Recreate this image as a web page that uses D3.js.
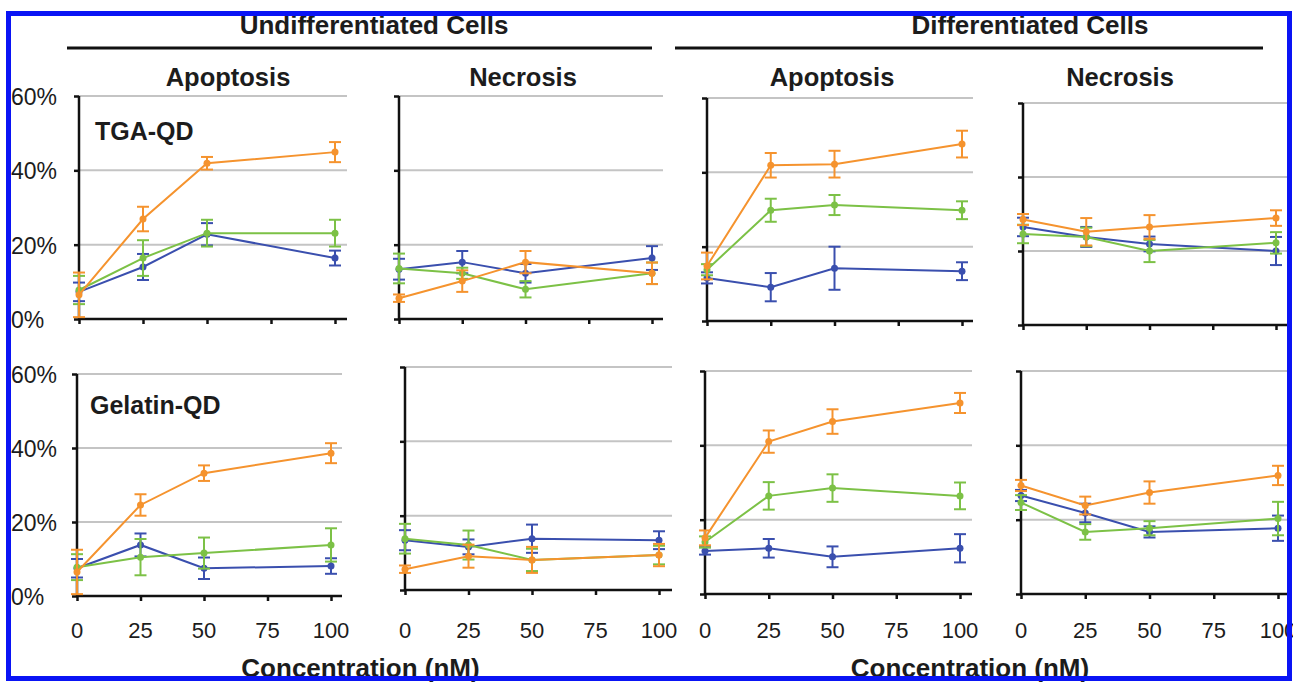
<!DOCTYPE html>
<html>
<head>
<meta charset="utf-8">
<script src="https://cdn.jsdelivr.net/npm/d3@7"></script>
<style>
  body { margin: 0; background: #fff; }
  svg { display: block; font-family: 'Liberation Sans', Arial, sans-serif; }
</style>
</head>
<body>
<script>
/* global d3 */
(function () {
  'use strict'

  // concentrations (nM) and axis ticks
  var conc = [0, 25, 50, 100]
  var xTicks = [0, 25, 50, 75, 100]
  var yTicks = [0, 20, 40, 60]

  // % cells, series order: blue, green, orange
  var tgaUndApo = [[7.3, 14.0, 22.8, 16.4], [7.8, 16.4, 23.1, 23.1], [6.5, 26.9, 41.9, 44.9]]
  var tgaUndApoErr = [[2.5, 3.5, 3.0, 2.0], [3.8, 4.8, 3.6, 3.6], [6.0, 3.3, 1.7, 2.7]]
  var tgaUndNec = [[13.4, 15.3, 12.3, 16.4], [13.6, 12.3, 8.0, 12.3], [5.6, 10.2, 15.3, 12.3]]
  var tgaUndNecErr = [[2.8, 3.0, 2.5, 3.2], [4.0, 1.5, 2.2, 2.9], [1.0, 2.9, 3.0, 2.9]]
  var tgaDifApo = [[11.6, 9.1, 14.2, 13.4], [13.8, 29.8, 31.2, 29.8], [14.8, 41.9, 42.2, 47.6]]
  var tgaDifApoErr = [[1.5, 3.8, 5.8, 2.4], [1.5, 3.1, 2.7, 2.4], [3.6, 3.3, 3.6, 3.6]]
  var tgaDifNec = [[26.5, 23.8, 21.9, 20.0], [24.6, 23.8, 20.0, 22.2], [28.5, 25.2, 26.5, 28.9]]
  var tgaDifNecErr = [[2.5, 2.7, 2.0, 3.8], [2.5, 2.5, 3.0, 2.9], [1.5, 3.7, 3.2, 2.1]]

  var gelUndApo = [[7.5, 13.8, 7.5, 8.1], [7.8, 10.5, 11.6, 13.8], [6.5, 24.6, 33.2, 38.6]]
  var gelUndApoErr = [[2.5, 3.1, 2.9, 2.1], [3.5, 4.9, 4.2, 4.5], [6.0, 2.9, 2.1, 2.7]]
  var gelUndNec = [[13.4, 11.6, 13.8, 13.4], [13.8, 12.1, 8.1, 9.4], [5.6, 9.1, 8.1, 9.4]]
  var gelUndNecErr = [[2.7, 2.0, 3.8, 2.4], [4.0, 3.9, 3.0, 2.5], [1.0, 3.1, 3.5, 3.0]]
  var gelDifApo = [[11.6, 12.3, 10.0, 12.3], [14.0, 26.4, 28.5, 26.4], [15.1, 41.0, 46.4, 51.4]]
  var gelDifApoErr = [[1.0, 2.5, 2.8, 3.8], [1.5, 3.7, 3.7, 3.6], [2.0, 3.0, 3.3, 2.7]]
  var gelDifNec = [[26.5, 21.8, 16.7, 17.7], [24.6, 16.7, 17.7, 20.3], [29.2, 23.8, 27.3, 31.9]]
  var gelDifNecErr = [[1.5, 2.5, 1.5, 3.4], [2.0, 2.1, 1.9, 4.5], [1.5, 2.4, 3.0, 2.6]]

  var groupTitles = ['Undifferentiated Cells', 'Differentiated Cells']
  var panelTitles = ['Apoptosis', 'Necrosis', 'Apoptosis', 'Necrosis']
  var rowLabels = ['TGA-QD', 'Gelatin-QD']
  var xTitle = 'Concentration (nM)'

  var colors = ['#3a4fae', '#7cc146', '#f5932e']

  // panel frames (pixel layout): axis origin x, x at 100, top y (60%), bottom y (0%), grid end
  var panels = [
    { mean: tgaUndApo, err: tgaUndApoErr, x0: 79, x1: 335, yTop: 96, yBot: 319, gx: 347 },
    { mean: tgaUndNec, err: tgaUndNecErr, x0: 399, x1: 652, yTop: 96, yBot: 319, gx: 663 },
    { mean: tgaDifApo, err: tgaDifApoErr, x0: 707, x1: 962, yTop: 98, yBot: 321, gx: 973 },
    { mean: tgaDifNec, err: tgaDifNecErr, x0: 1023, x1: 1276, yTop: 103, yBot: 325, gx: 1292 },
    { mean: gelUndApo, err: gelUndApoErr, x0: 77, x1: 331, yTop: 374, yBot: 596, gx: 342 },
    { mean: gelUndNec, err: gelUndNecErr, x0: 405, x1: 659, yTop: 367, yBot: 590, gx: 672 },
    { mean: gelDifApo, err: gelDifApoErr, x0: 705, x1: 960, yTop: 371, yBot: 594, gx: 972 },
    { mean: gelDifNec, err: gelDifNecErr, x0: 1021, x1: 1278, yTop: 371, yBot: 594, gx: 1292 }
  ]

  var w = 1293
  var h = 682

  var svg = d3.select('body').append('svg')
    .attr('width', w)
    .attr('height', h)

  // group headers
  var groupX = [[67, 652], [675, 1263]]
  groupTitles.forEach(function (t, i) {
    var cx = (groupX[i][0] + groupX[i][1]) / 2
    svg.append('text')
      .attr('x', i === 0 ? 374 : 1030)
      .attr('y', 34)
      .attr('text-anchor', 'middle')
      .attr('font-size', 26)
      .attr('font-weight', 'bold')
      .attr('fill', '#1c1c1c')
      .text(t)
    svg.append('line')
      .attr('x1', groupX[i][0]).attr('x2', groupX[i][1])
      .attr('y1', 48).attr('y2', 48)
      .attr('stroke', '#111')
      .attr('stroke-width', 3)
    svg.append('text')
      .attr('x', cx + 1)
      .attr('y', 677)
      .attr('text-anchor', 'middle')
      .attr('font-size', 26)
      .attr('font-weight', 'bold')
      .attr('fill', '#1c1c1c')
      .text(xTitle)
  })

  var titleX = [228, 523, 832, 1120]
  panelTitles.forEach(function (t, i) {
    svg.append('text')
      .attr('x', titleX[i])
      .attr('y', 86)
      .attr('text-anchor', 'middle')
      .attr('font-size', 25.5)
      .attr('font-weight', 'bold')
      .attr('fill', '#1c1c1c')
      .text(t)
  })

  panels.forEach(function (p, pi) {
    var col = pi % 4
    var row = Math.floor(pi / 4)
    var x = d3.scaleLinear().domain([0, 100]).range([p.x0, p.x1])
    var y = d3.scaleLinear().domain([0, 60]).range([p.yBot, p.yTop])
    var g = svg.append('g')

    // gridlines
    g.selectAll('line.grid')
      .data(yTicks.slice(1))
      .enter().append('line')
        .attr('x1', p.x0).attr('x2', p.gx)
        .attr('y1', function (d) { return y(d) })
        .attr('y2', function (d) { return y(d) })
        .attr('stroke', '#c4c4c4')
        .attr('stroke-width', 2)

    // y axis
    var yAxis = g.append('g')
      .attr('transform', 'translate(' + p.x0 + ',0)')
      .call(d3.axisLeft(y).tickValues(yTicks).tickSize(5).tickFormat(''))
    yAxis.select('.domain').attr('d', 'M0,' + y(0) + 'V' + y(60))

    // x axis
    var xAxis = g.append('g')
      .attr('transform', 'translate(0,' + p.yBot + ')')
      .call(d3.axisBottom(x).tickValues(xTicks).tickSize(5).tickFormat(''))
    xAxis.select('.domain').attr('d', 'M' + p.x0 + ',0H' + p.gx)

    g.selectAll('.domain, .tick line')
      .attr('stroke', '#111')
      .attr('stroke-width', 2.5)

    // tick labels along the bottom row
    if (row === 1) {
      g.selectAll('text.xl')
        .data(xTicks)
        .enter().append('text')
          .attr('x', function (d) { return x(d) })
          .attr('y', 638)
          .attr('text-anchor', 'middle')
          .attr('font-size', 22)
          .attr('fill', '#1c1c1c')
          .text(function (d) { return d })
    }
    if (col === 0) {
      g.selectAll('text.yl')
        .data(yTicks)
        .enter().append('text')
          .attr('x', 11)
          .attr('y', function (d) { return y(d) + 1 })
          .attr('dy', '0.35em')
          .attr('font-size', 23)
          .attr('fill', '#1c1c1c')
          .text(function (d) { return d + '%' })
      g.append('text')
        .attr('x', row === 0 ? 95 : 90)
        .attr('y', row === 0 ? 140 : 414)
        .attr('font-size', 25)
        .attr('font-weight', 'bold')
        .attr('fill', '#1c1c1c')
        .text(rowLabels[row])
    }

    // series
    p.mean.forEach(function (vals, si) {
      var pts = conc.map(function (c, k) {
        return { c: c, v: vals[k], e: p.err[si][k] }
      })
      var sg = g.append('g').attr('stroke', colors[si]).attr('fill', colors[si])

      sg.append('path')
        .datum(pts)
        .attr('fill', 'none')
        .attr('stroke-width', 2)
        .attr('d', d3.line()
          .x(function (d) { return x(d.c) })
          .y(function (d) { return y(d.v) }))

      var eb = sg.selectAll('g.eb')
        .data(pts)
        .enter().append('g')
      eb.append('line')
        .attr('x1', function (d) { return x(d.c) })
        .attr('x2', function (d) { return x(d.c) })
        .attr('y1', function (d) { return y(Math.max(0, d.v - d.e)) })
        .attr('y2', function (d) { return y(d.v + d.e) })
        .attr('stroke-width', 2)
      eb.selectAll('line.cap')
        .data(function (d) {
          return [Math.max(0, d.v - d.e), d.v + d.e].map(function (v) { return { c: d.c, v: v } })
        })
        .enter().append('line')
          .attr('x1', function (d) { return x(d.c) - 6 })
          .attr('x2', function (d) { return x(d.c) + 6 })
          .attr('y1', function (d) { return y(d.v) })
          .attr('y2', function (d) { return y(d.v) })
          .attr('stroke-width', 2)
      eb.append('circle')
        .attr('cx', function (d) { return x(d.c) })
        .attr('cy', function (d) { return y(d.v) })
        .attr('r', 3.5)
        .attr('stroke', 'none')
    })
  })

  // outer frame
  svg.append('rect')
    .attr('x', 8.5)
    .attr('y', 13.5)
    .attr('width', 1281)
    .attr('height', 665)
    .attr('fill', 'none')
    .attr('stroke', '#0a14f5')
    .attr('stroke-width', 5)
}())
</script>
</body>
</html>
